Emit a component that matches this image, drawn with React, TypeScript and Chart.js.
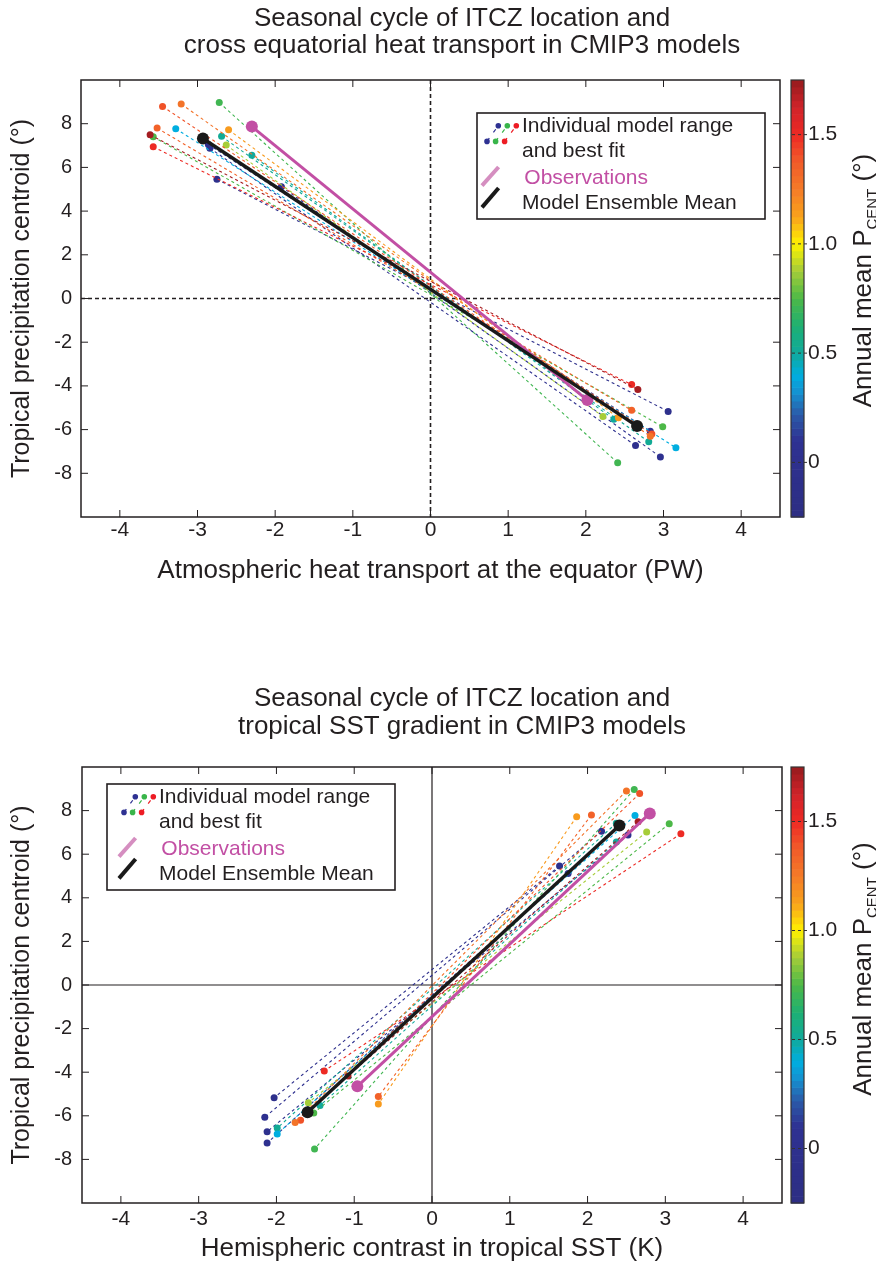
import React, { useEffect, useRef } from 'react';
import { Chart, registerables } from 'chart.js';

Chart.register(...registerables);

// ---------------- DATA ----------------
// Annual-mean precipitation centroid of each CMIP3 model (colour value, degrees)
const MODEL_PCENT = [1.72, 1.5, 1.35, 1.15, 1.28, 1.4, 0.72, 0.75, 0.88, 0.4, 0.52, 0.5, 0.0, 0.02, -0.05, 0.05];
// Seasonal extremes of the tropical precipitation centroid (degrees)
const MODEL_P_MAX = [7.49, 6.94, 7.8, 7.72, 8.9, 8.79, 8.97, 7.4, 7.02, 7.77, 7.42, 6.56, 6.88, 7.05, 5.46, 5.12];
const MODEL_P_MIN = [-4.17, -3.94, -5.12, -5.46, -6.31, -6.2, -7.52, -5.87, -5.4, -6.83, -6.56, -5.53, -6.73, -6.07, -5.17, -7.25];
// Atmospheric heat transport at the equator (PW) at those extremes
const MODEL_AHT_AT_PMAX = [-3.61, -3.57, -3.52, -2.6, -3.21, -3.45, -2.72, -3.57, -2.63, -3.28, -2.69, -2.3, -2.84, -2.86, -2.75, -1.92];
const MODEL_AHT_AT_PMIN = [2.67, 2.59, 2.59, 2.42, 2.83, 2.85, 2.41, 2.99, 2.22, 3.16, 2.81, 2.36, 2.64, 2.83, 3.06, 2.96];
// Hemispheric contrast in tropical SST (K) at those extremes
const MODEL_SST_AT_PMAX = [2.65, 3.2, 2.05, 1.86, 2.5, 2.67, 2.6, 3.05, 2.76, 2.61, 2.37, 2.37, 2.52, 2.18, 1.64, 1.75];
const MODEL_SST_AT_PMIN = [-1.08, -1.385, -0.69, -0.69, -1.76, -1.69, -1.51, -1.52, -1.59, -1.99, -1.99, -1.44, -2.12, -2.15, -2.03, -2.12];

const MEAN_P = [7.32, -5.84];
const MEAN_AHT = [-2.93, 2.66];
const MEAN_SST = [2.41, -1.6];

const OBS_P = [7.87, -4.65];
const OBS_AHT = [-2.3, 2.02];
const OBS_SST = [2.8, -0.96];

const X_TICKS = [-4, -3, -2, -1, 0, 1, 2, 3, 4];
const Y_TICKS = [-8, -6, -4, -2, 0, 2, 4, 6, 8];
const CB_TICKS = [0, 0.5, 1.0, 1.5];
const X_RANGE = [-4.5, 4.5];
const Y_RANGE = [-10, 10];
const CB_RANGE = [-0.25, 1.75];

// ---------------- STYLE ----------------
const FONT = "'Liberation Sans', Arial, Helvetica, sans-serif";
const INK = '#231f20';
const MEAN_COLOR = '#1a1a1a';
const OBS_COLOR = '#c24fa4';
const OBS_LEGEND_COLOR = '#d58ec0';

const CMAP_STOPS: [number, string][] = [
  [-0.25, '#2d2e83'],
  [0.1, '#2e3192'],
  [0.22, '#2b5aa8'],
  [0.32, '#1591d0'],
  [0.4, '#00aee0'],
  [0.5, '#10a99c'],
  [0.62, '#1db074'],
  [0.75, '#4cb848'],
  [0.88, '#a6cd38'],
  [1.0, '#fff200'],
  [1.12, '#f9a51b'],
  [1.25, '#f47b28'],
  [1.38, '#f15a29'],
  [1.5, '#ed2a24'],
  [1.62, '#d2232a'],
  [1.75, '#961b1e'],
];

function hexToRgb(h: string) {
  const n = parseInt(h.slice(1), 16);
  return [(n >> 16) & 255, (n >> 8) & 255, n & 255];
}

function cmap(v: number) {
  const s = CMAP_STOPS;
  if (v <= s[0][0]) return s[0][1];
  if (v >= s[s.length - 1][0]) return s[s.length - 1][1];
  for (let i = 0; i < s.length - 1; i++) {
    const [a, ca] = s[i];
    const [b, cb] = s[i + 1];
    if (v >= a && v <= b) {
      const t = (v - a) / (b - a);
      const A = hexToRgb(ca);
      const B = hexToRgb(cb);
      const c = A.map((x, k) => Math.round(x + (B[k] - x) * t));
      return `rgb(${c[0]},${c[1]},${c[2]})`;
    }
  }
  return s[0][1];
}

type PanelCfg = {
  titleLines: string[];
  titleYs: number[];
  titleX: number;
  xTitle: string;
  xVar: 'aht' | 'sst';
  padTop: number;
  xAxisHeight: number;
  leftWidth: number;
  rightWidth: number;
  xTickPad: number;
  yTickPad: number;
  cbTickPad: number;
  xTitlePadBottom: number;
  zeroDash: number[];
  zeroWidth: number;
  legendX: number;
  legendY: number;
  legendDx: number;
  cbTitleShift: number;
};

const TOP: PanelCfg = {
  titleLines: ['Seasonal cycle of ITCZ location and', 'cross equatorial heat transport in CMIP3 models'],
  titleYs: [19, 46],
  titleX: 462,
  xTitle: 'Atmospheric heat transport at the equator (PW)',
  xVar: 'aht',
  padTop: 80,
  xAxisHeight: 116,
  leftWidth: 81,
  rightWidth: 96,
  xTickPad: 1,
  yTickPad: 9,
  cbTickPad: 28,
  xTitlePadBottom: 47,
  zeroDash: [4, 3],
  zeroWidth: 1.6,
  legendX: 477,
  legendY: 113,
  legendDx: 0,
  cbTitleShift: -18,
};

const BOTTOM: PanelCfg = {
  titleLines: ['Seasonal cycle of ITCZ location and', 'tropical SST gradient in CMIP3 models'],
  titleYs: [66, 94],
  titleX: 462,
  xTitle: 'Hemispheric contrast in tropical SST (K)',
  xVar: 'sst',
  padTop: 134,
  xAxisHeight: 63,
  leftWidth: 82,
  rightWidth: 94,
  xTickPad: 4,
  yTickPad: 10,
  cbTickPad: 26,
  xTitlePadBottom: 2,
  zeroDash: [],
  zeroWidth: 1.2,
  legendX: 107,
  legendY: 151,
  legendDx: 7,
  cbTitleShift: -16,
};

function buildDatasets(xVar: 'aht' | 'sst') {
  const xMax = xVar === 'aht' ? MODEL_AHT_AT_PMAX : MODEL_SST_AT_PMAX;
  const xMin = xVar === 'aht' ? MODEL_AHT_AT_PMIN : MODEL_SST_AT_PMIN;
  const meanX = xVar === 'aht' ? MEAN_AHT : MEAN_SST;
  const obsX = xVar === 'aht' ? OBS_AHT : OBS_SST;
  const ds: any[] = [];
  ds.push({
    label: 'Model Ensemble Mean',
    data: [
      { x: meanX[0], y: MEAN_P[0] },
      { x: meanX[1], y: MEAN_P[1] },
    ],
    showLine: true,
    borderColor: MEAN_COLOR,
    borderWidth: 3.5,
    pointRadius: 6,
    pointBackgroundColor: MEAN_COLOR,
    pointBorderWidth: 0,
  });
  ds.push({
    label: 'Observations',
    data: [
      { x: obsX[0], y: OBS_P[0] },
      { x: obsX[1], y: OBS_P[1] },
    ],
    showLine: true,
    borderColor: OBS_COLOR,
    borderWidth: 3,
    pointRadius: 6,
    pointBackgroundColor: OBS_COLOR,
    pointBorderWidth: 0,
  });
  MODEL_PCENT.forEach((c, i) => {
    const col = cmap(c);
    ds.push({
      label: 'model ' + (i + 1),
      data: [
        { x: xMax[i], y: MODEL_P_MAX[i] },
        { x: xMin[i], y: MODEL_P_MIN[i] },
      ],
      showLine: true,
      borderColor: col,
      borderWidth: 1.1,
      borderDash: [3, 3],
      pointRadius: 3.5,
      pointBackgroundColor: col,
      pointBorderWidth: 0,
    });
  });
  return ds;
}

function makePlugin(cfg: PanelCfg) {
  return {
    id: 'panelDecor',
    beforeDatasetsDraw(chart: any) {
      const { ctx, chartArea: a, scales } = chart;
      const x0 = scales.x.getPixelForValue(0);
      const y0 = scales.y.getPixelForValue(0);
      ctx.save();
      ctx.strokeStyle = INK;
      ctx.lineWidth = cfg.zeroWidth;
      ctx.setLineDash(cfg.zeroDash);
      ctx.beginPath();
      ctx.moveTo(x0, a.top);
      ctx.lineTo(x0, a.bottom);
      ctx.moveTo(a.left, y0);
      ctx.lineTo(a.right, y0);
      ctx.stroke();
      ctx.restore();
    },
    afterDraw(chart: any) {
      const { ctx, chartArea: a, scales } = chart;
      ctx.save();
      // frame
      ctx.strokeStyle = INK;
      ctx.lineWidth = 1.5;
      ctx.strokeRect(a.left, a.top, a.right - a.left, a.bottom - a.top);
      // inward ticks
      ctx.lineWidth = 1;
      const tl = 7;
      ctx.beginPath();
      scales.x.ticks.forEach((t: any) => {
        const px = scales.x.getPixelForValue(t.value);
        ctx.moveTo(px, a.bottom);
        ctx.lineTo(px, a.bottom - tl);
        ctx.moveTo(px, a.top);
        ctx.lineTo(px, a.top + tl);
      });
      scales.y.ticks.forEach((t: any) => {
        const py = scales.y.getPixelForValue(t.value);
        ctx.moveTo(a.left, py);
        ctx.lineTo(a.left + tl, py);
        ctx.moveTo(a.right, py);
        ctx.lineTo(a.right - tl, py);
      });
      ctx.stroke();

      // colour bar
      const cb = scales.cb;
      const bx0 = 791;
      const bx1 = 804;
      const n = 64;
      const [cmin, cmax] = CB_RANGE;
      const step = (cmax - cmin) / n;
      for (let k = 0; k < n; k++) {
        const v0 = cmin + k * step;
        const yA = cb.getPixelForValue(v0);
        const yB = cb.getPixelForValue(v0 + step);
        ctx.fillStyle = cmap(v0 + step / 2);
        ctx.fillRect(bx0, Math.min(yA, yB), bx1 - bx0, Math.abs(yA - yB) + 0.6);
      }
      ctx.strokeStyle = '#333';
      ctx.lineWidth = 1.2;
      ctx.strokeRect(bx0, cb.top, bx1 - bx0, cb.bottom - cb.top);
      ctx.setLineDash([3, 3]);
      ctx.lineWidth = 1;
      ctx.beginPath();
      cb.ticks.forEach((t: any) => {
        const py = cb.getPixelForValue(t.value);
        ctx.moveTo(bx0 + 1, py);
        ctx.lineTo(bx1 + 4, py);
      });
      ctx.stroke();
      ctx.setLineDash([]);

      // colour bar title with subscript
      {
        const cx = 862;
        const cy = (a.top + a.bottom) / 2 + cfg.cbTitleShift;
        const mainFont = `26px ${FONT}`;
        const subFont = `15px ${FONT}`;
        const p1 = 'Annual mean P';
        const p2 = 'CENT';
        const p3 = ' (\u00B0)';
        ctx.font = mainFont;
        const w1 = ctx.measureText(p1).width;
        const w3 = ctx.measureText(p3).width;
        ctx.font = subFont;
        const w2 = ctx.measureText(p2).width;
        const W = w1 + w2 + w3;
        ctx.translate(cx, cy);
        ctx.rotate(-Math.PI / 2);
        ctx.fillStyle = INK;
        ctx.textBaseline = 'alphabetic';
        ctx.textAlign = 'left';
        const base = 9;
        ctx.font = mainFont;
        ctx.fillText(p1, -W / 2, base);
        ctx.font = subFont;
        ctx.fillText(p2, -W / 2 + w1, base + 6);
        ctx.font = mainFont;
        ctx.fillText(p3, -W / 2 + w1 + w2, base);
        ctx.setTransform(1, 0, 0, 1, 0, 0);
      }

      // title
      ctx.fillStyle = INK;
      ctx.font = `26px ${FONT}`;
      ctx.textAlign = 'center';
      ctx.textBaseline = 'middle';
      cfg.titleLines.forEach((line, i) => ctx.fillText(line, cfg.titleX, cfg.titleYs[i]));

      // legend
      const lx = cfg.legendX;
      const ly = cfg.legendY;
      const dx = cfg.legendDx;
      ctx.fillStyle = '#fff';
      ctx.fillRect(lx, ly, 288, 106);
      ctx.strokeStyle = INK;
      ctx.lineWidth = 1.6;
      ctx.strokeRect(lx, ly, 288, 106);
      const pairCols = ['#2e3192', '#39b54a', '#ed1c24'];
      const lows = [10, 18.6, 27.6];
      const highs = [21.3, 30.3, 39.3];
      pairCols.forEach((col, k) => {
        const xa = lx + dx + lows[k];
        const ya = ly + 28.4;
        const xb = lx + dx + highs[k];
        const yb = ly + 12.7;
        ctx.strokeStyle = col;
        ctx.lineWidth = 1.2;
        ctx.setLineDash([4, 7]);
        ctx.beginPath();
        ctx.moveTo(xa, ya);
        ctx.lineTo(xb, yb);
        ctx.stroke();
        ctx.setLineDash([]);
        ctx.fillStyle = col;
        ctx.beginPath();
        ctx.arc(xa, ya, 2.8, 0, Math.PI * 2);
        ctx.arc(xb, yb, 2.8, 0, Math.PI * 2);
        ctx.fill();
      });
      ctx.lineCap = 'butt';
      ctx.strokeStyle = OBS_LEGEND_COLOR;
      ctx.lineWidth = 4;
      ctx.beginPath();
      ctx.moveTo(lx + dx + 5, ly + 72.7);
      ctx.lineTo(lx + dx + 21.6, ly + 54);
      ctx.stroke();
      ctx.strokeStyle = MEAN_COLOR;
      ctx.lineWidth = 4;
      ctx.beginPath();
      ctx.moveTo(lx + dx + 5, ly + 94.4);
      ctx.lineTo(lx + dx + 21.6, ly + 75);
      ctx.stroke();
      ctx.font = `21px ${FONT}`;
      ctx.textAlign = 'left';
      ctx.textBaseline = 'middle';
      ctx.fillStyle = INK;
      ctx.fillText('Individual model range', lx + dx + 45, ly + 13.4);
      ctx.fillText('and best fit', lx + dx + 45, ly + 38.4);
      ctx.fillStyle = OBS_COLOR;
      ctx.fillText('Observations', lx + dx + 47.3, ly + 65);
      ctx.fillStyle = INK;
      ctx.fillText('Model Ensemble Mean', lx + dx + 45, ly + 90);
      ctx.restore();
    },
  };
}

function Panel({ cfg }: { cfg: PanelCfg }) {
  const ref = useRef<HTMLCanvasElement>(null);
  useEffect(() => {
    const canvas = ref.current!;
    const chart = new Chart(canvas, {
      type: 'scatter',
      data: { datasets: buildDatasets(cfg.xVar) },
      options: {
        responsive: false,
        maintainAspectRatio: false,
        animation: false,
        devicePixelRatio: 1,
        layout: { padding: { top: cfg.padTop, left: 0, right: 0, bottom: 0 } },
        plugins: {
          legend: { display: false },
          tooltip: { enabled: false },
          title: { display: false },
        },
        scales: {
          x: {
            type: 'linear',
            position: 'bottom',
            min: X_RANGE[0],
            max: X_RANGE[1],
            afterBuildTicks: (s: any) => {
              s.ticks = X_TICKS.map((v) => ({ value: v }));
            },
            afterFit: (s: any) => {
              s.height = cfg.xAxisHeight;
            },
            grid: { display: false, drawTicks: false },
            border: { display: false },
            ticks: {
              color: INK,
              font: { family: FONT, size: 21 },
              padding: cfg.xTickPad,
              maxRotation: 0,
              autoSkip: false,
              callback: (v: any) => String(v),
            },
            title: {
              display: true,
              text: cfg.xTitle,
              color: INK,
              font: { family: FONT, size: 26 },
              padding: { top: 0, bottom: cfg.xTitlePadBottom },
            },
          },
          y: {
            type: 'linear',
            position: 'left',
            min: Y_RANGE[0],
            max: Y_RANGE[1],
            afterBuildTicks: (s: any) => {
              s.ticks = Y_TICKS.map((v) => ({ value: v }));
            },
            afterFit: (s: any) => {
              s.width = cfg.leftWidth;
            },
            grid: { display: false, drawTicks: false },
            border: { display: false },
            ticks: {
              color: INK,
              font: { family: FONT, size: 20 },
              padding: cfg.yTickPad,
              autoSkip: false,
              callback: (v: any) => String(v),
            },
            title: {
              display: true,
              text: 'Tropical precipitation centroid (\u00B0)',
              color: INK,
              font: { family: FONT, size: 25 },
              padding: { top: 7, bottom: 0 },
            },
          },
          cb: {
            type: 'linear',
            position: 'right',
            min: CB_RANGE[0],
            max: CB_RANGE[1],
            afterBuildTicks: (s: any) => {
              s.ticks = CB_TICKS.map((v) => ({ value: v }));
            },
            afterFit: (s: any) => {
              s.width = cfg.rightWidth;
            },
            grid: { display: false, drawTicks: false },
            border: { display: false },
            ticks: {
              color: INK,
              font: { family: FONT, size: 21 },
              padding: cfg.cbTickPad,
              autoSkip: false,
              callback: (v: any) => (v === 0 ? '0' : Number(v).toFixed(1)),
            },
          },
        },
      } as any,
      plugins: [makePlugin(cfg)],
    });
    return () => chart.destroy();
  }, [cfg]);
  return <canvas ref={ref} width={876} height={633} style={{ display: 'block', width: 876, height: 633 }} />;
}

export default function App() {
  useEffect(() => {
    document.body.style.margin = '0';
  }, []);
  return (
    <div style={{ position: 'absolute', left: 0, top: 0, width: 876, height: 1266, background: '#fff' }}>
      <Panel cfg={TOP} />
      <Panel cfg={BOTTOM} />
    </div>
  );
}
